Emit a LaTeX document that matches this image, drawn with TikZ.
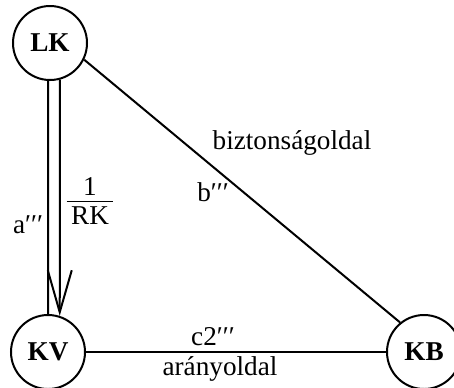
\documentclass[tikz,border=0pt]{standalone}
\usepackage{fontspec}
\setmainfont{Liberation Serif}
\usetikzlibrary{arrows.meta}

\newcommand{\trip}{′′′}

\begin{document}
\begin{tikzpicture}[x=0.5pt, y=-0.5pt,
    stateNode/.style={draw, circle, line width=1pt, minimum size=37pt, inner sep=0pt,
        font=\fontsize{13.6}{16}\selectfont\bfseries},
    edgeLabel/.style={inner sep=0pt, font=\fontsize{13.6}{16}\selectfont}]
\useasboundingbox (0,0) rectangle (454,387);

    % states
    \node[stateNode] (ndLK) at (50,43) {LK};
    \node[stateNode] (ndKV) at (48,352) {KV};
    \node[stateNode] (ndKB) at (424,352) {KB};

    % double connector LK -> KV
    \draw[line width=1pt] (ndLK.-93) -- (ndKV.90);
    \draw[line width=1pt, -{Straight Barb[length=21pt, width=12pt]}] (ndLK.-75) -- (ndKV.72);
    \draw[line width=1pt] (ndLK.-26) -- (ndKB.129);
    \draw[line width=1pt] (ndKV) -- (ndKB);

    % labels
    \node[edgeLabel] (lbA) at (28,225) {a\trip};
    \node[edgeLabel] (lbFrac) at (90,201) {$\frac{\mbox{1}\rule[-2pt]{0pt}{0pt}}{\mbox{\,RK\,}\rule{0pt}{11pt}}$};
    \node[edgeLabel] (lbSafe) at (292,143) {biztonságoldal};
    \node[edgeLabel] (lbB) at (213,192) {b\trip};
    \node[edgeLabel] (lbC) at (213,337) {c2\trip};
    \node[edgeLabel] (lbRatio) at (220,369) {arányoldal};
\end{tikzpicture}
\end{document}
